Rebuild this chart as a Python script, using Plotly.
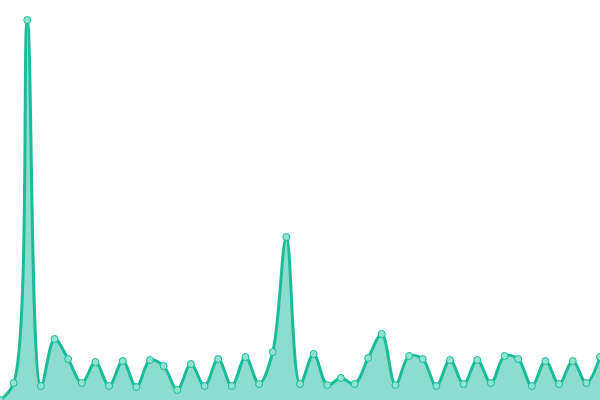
import plotly.graph_objects as go

x_index = list(range(45))
values = [0, 17, 380, 14, 61, 41, 17, 38, 14, 39, 13, 40, 34, 10, 36, 14, 41, 14, 43, 16,
          48, 163, 16, 46, 15, 22, 16, 42, 66, 15, 44, 41, 14, 40, 16, 40, 17, 44, 41, 14,
          39, 16, 39, 17, 43]

fig = go.Figure()
fig.add_trace(go.Scatter(
    x=x_index, y=values, mode="lines+markers",
    line=dict(color="#1abc9c", width=3, shape="spline", smoothing=1),
    fill="tozeroy", fillcolor="rgba(26,188,156,0.5)",
    marker=dict(size=7, color="#8fe3cf", line=dict(color="#1abc9c", width=1)),
    hoverinfo="skip",
    cliponaxis=False,
))
fig.update_layout(
    width=600, height=400, margin=dict(l=0, r=0, t=0, b=0),
    paper_bgcolor="white", plot_bgcolor="white", showlegend=False,
    xaxis=dict(range=[0, 44], visible=False, fixedrange=True),
    yaxis=dict(range=[0, 400], visible=False, fixedrange=True),
)
fig.write_html(
    "out.html",
    config={"displayModeBar": False},
    post_script="document.body.style.margin='0';document.body.style.overflow='hidden';",
)
